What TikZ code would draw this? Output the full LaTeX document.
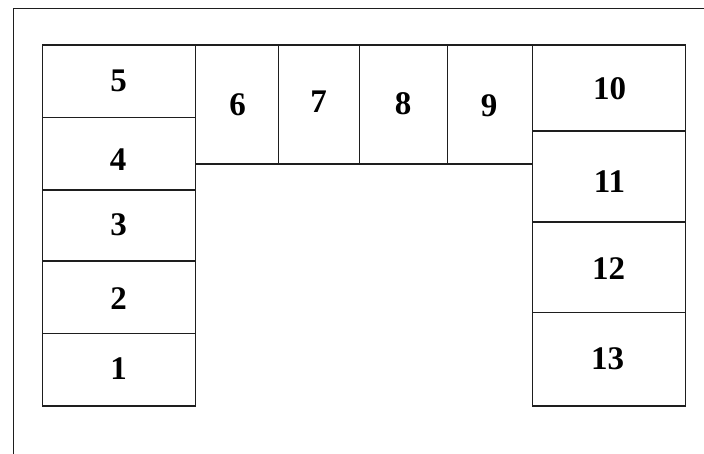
\documentclass[tikz,border=0pt]{standalone}
\usepackage{fontspec}
\setmainfont{Liberation Serif}
\usetikzlibrary{fit}
\definecolor{ink}{HTML}{1E1E1E}
\tikzset{
  cell/.style={draw=ink, line width=1.4pt, inner sep=0pt, rectangle},
  lab/.style={inner sep=0pt, anchor=center, text=black, font=\fontsize{33}{33}\selectfont\bfseries},
  frame/.style={draw=ink, line width=1.4pt}
}
\begin{document}
\begin{tikzpicture}[x=1pt,y=-1pt]
\useasboundingbox (0,0) rectangle (704,454);
\clip (0,0) rectangle (704,454);
\fill[white] (0,0) rectangle (704,454);
\draw[frame] (13.3,8.7) rectangle (720,470);
% left column
\node[cell, fit={(42.7,333.3) (195.7,406)}] (c1) {};
\node[cell, fit={(42.7,261) (195.7,333.3)}] (c2) {};
\node[cell, fit={(42.7,190) (195.7,261)}] (c3) {};
\node[cell, fit={(42.7,117.3) (195.7,190)}] (c4) {};
\node[cell, fit={(42.7,45) (195.7,117.3)}] (c5) {};
% top row
\node[cell, fit={(195.7,45) (278.7,164)}] (c6) {};
\node[cell, fit={(278.7,45) (359.3,164)}] (c7) {};
\node[cell, fit={(359.3,45) (447.7,164)}] (c8) {};
\node[cell, fit={(447.7,45) (532.3,164)}] (c9) {};
% right column
\node[cell, fit={(532.3,45) (685.7,131)}] (c10) {};
\node[cell, fit={(532.3,131) (685.7,222)}] (c11) {};
\node[cell, fit={(532.3,222) (685.7,312.3)}] (c12) {};
\node[cell, fit={(532.3,312.3) (685.7,406)}] (c13) {};
% labels
\node[lab] (l1) at (118.5,368.7) {1};
\node[lab] (l2) at (118.5,299) {2};
\node[lab] (l3) at (118.5,225) {3};
\node[lab] (l4) at (118,159.5) {4};
\node[lab] (l5) at (118.5,81) {5};
\node[lab] (l6) at (237.5,105) {6};
\node[lab] (l7) at (318.5,102) {7};
\node[lab] (l8) at (403,104) {8};
\node[lab] (l9) at (489,106) {9};
\node[lab] (l10) at (609.5,89) {10};
\node[lab] (l11) at (609.5,181.5) {11};
\node[lab] (l12) at (608.5,268.5) {12};
\node[lab] (l13) at (607.5,359) {13};
\end{tikzpicture}
\end{document}
